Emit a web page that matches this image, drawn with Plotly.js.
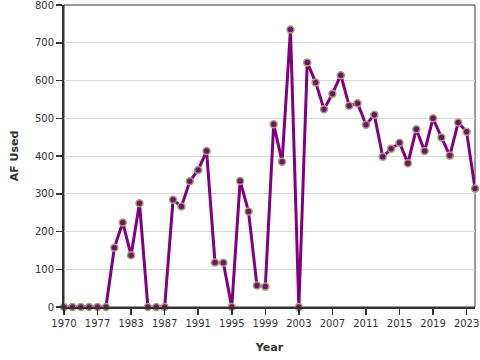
<!DOCTYPE html>
<html>
<head>
<meta charset="utf-8">
<script src="https://cdn.plot.ly/plotly-3.0.1.min.js"></script>
<style>html,body{margin:0;padding:0;background:#fff;}#chart{width:480px;height:360px;}</style>
</head>
<body>
<div id="chart"></div>
<script>
const years = ["1970","1971","1972","1975","1977","1978","1980","1982",
  "1983","1984","1985","1986","1987","1988","1989","1990","1991","1992","1993","1994",
  "1995","1996","1997","1998","1999","2000","2001","2002","2003","2004","2005","2006",
  "2007","2008","2009","2010","2011","2012","2013","2014","2015","2016","2017","2018",
  "2019","2020","2021","2022","2023","2024"];
const afUsed = [0,0,0,0,0,0,157,224,
  137,275,0,0,0,284,266,333,363,413,118,117,
  0,334,253,57,54,484,385,735,0,648,595,524,
  565,614,533,540,483,509,398,419,435,381,471,413,
  500,449,401,489,464,314];
const yTicks = [0,100,200,300,400,500,600,700,800];
const tickYears = years.filter((y, i) => i % 4 === 0);

const trace = {
  x: years, y: afUsed, type: 'scatter', mode: 'lines+markers',
  line: {color: '#800080', width: 3},
  marker: {color: '#6e1466', size: 7, line: {color: '#a89f78', width: 1.5}},
  cliponaxis: false, hoverinfo: 'none'
};
const font = {family: 'DejaVu Sans, Verdana, sans-serif', size: 10, color: '#333'};
const layout = {
  width: 480, height: 360,
  margin: {l: 64, r: 5, t: 5, b: 53},
  paper_bgcolor: '#fff', plot_bgcolor: '#fff',
  font: font, showlegend: false,
  xaxis: {
    type: 'category', range: [0, years.length - 1],
    tickmode: 'array', tickvals: tickYears, ticktext: tickYears,
    showgrid: false, zeroline: false,
    showline: true, linecolor: '#333', linewidth: 2,
    ticks: 'outside', ticklen: 6, tickwidth: 1.5, tickcolor: '#333',
    tickfont: font, ticklabeloverflow: 'allow',
    title: {text: '<b>Year</b>', font: {family: font.family, size: 11, color: '#333'}, standoff: 15}
  },
  yaxis: {
    range: [0, 800], tickmode: 'array', tickvals: yTicks, ticktext: yTicks.map(String),
    showgrid: true, gridcolor: '#d9d9d9', gridwidth: 1, zeroline: false,
    showline: true, linecolor: '#333', linewidth: 2,
    ticks: 'outside', ticklen: 6, tickwidth: 1.5, tickcolor: '#333',
    tickfont: font, ticklabeloverflow: 'allow',
    title: {text: '<b>AF Used</b>', font: {family: font.family, size: 11, color: '#333'}, standoff: 14}
  },
  shapes: [{type: 'rect', xref: 'paper', yref: 'paper', x0: 0, x1: 1, y0: 0, y1: 1,
    line: {color: '#333', width: 1}, fillcolor: 'rgba(0,0,0,0)', layer: 'below'}]
};
Plotly.newPlot('chart', [trace], layout, {displayModeBar: false, staticPlot: true});
</script>
</body>
</html>
